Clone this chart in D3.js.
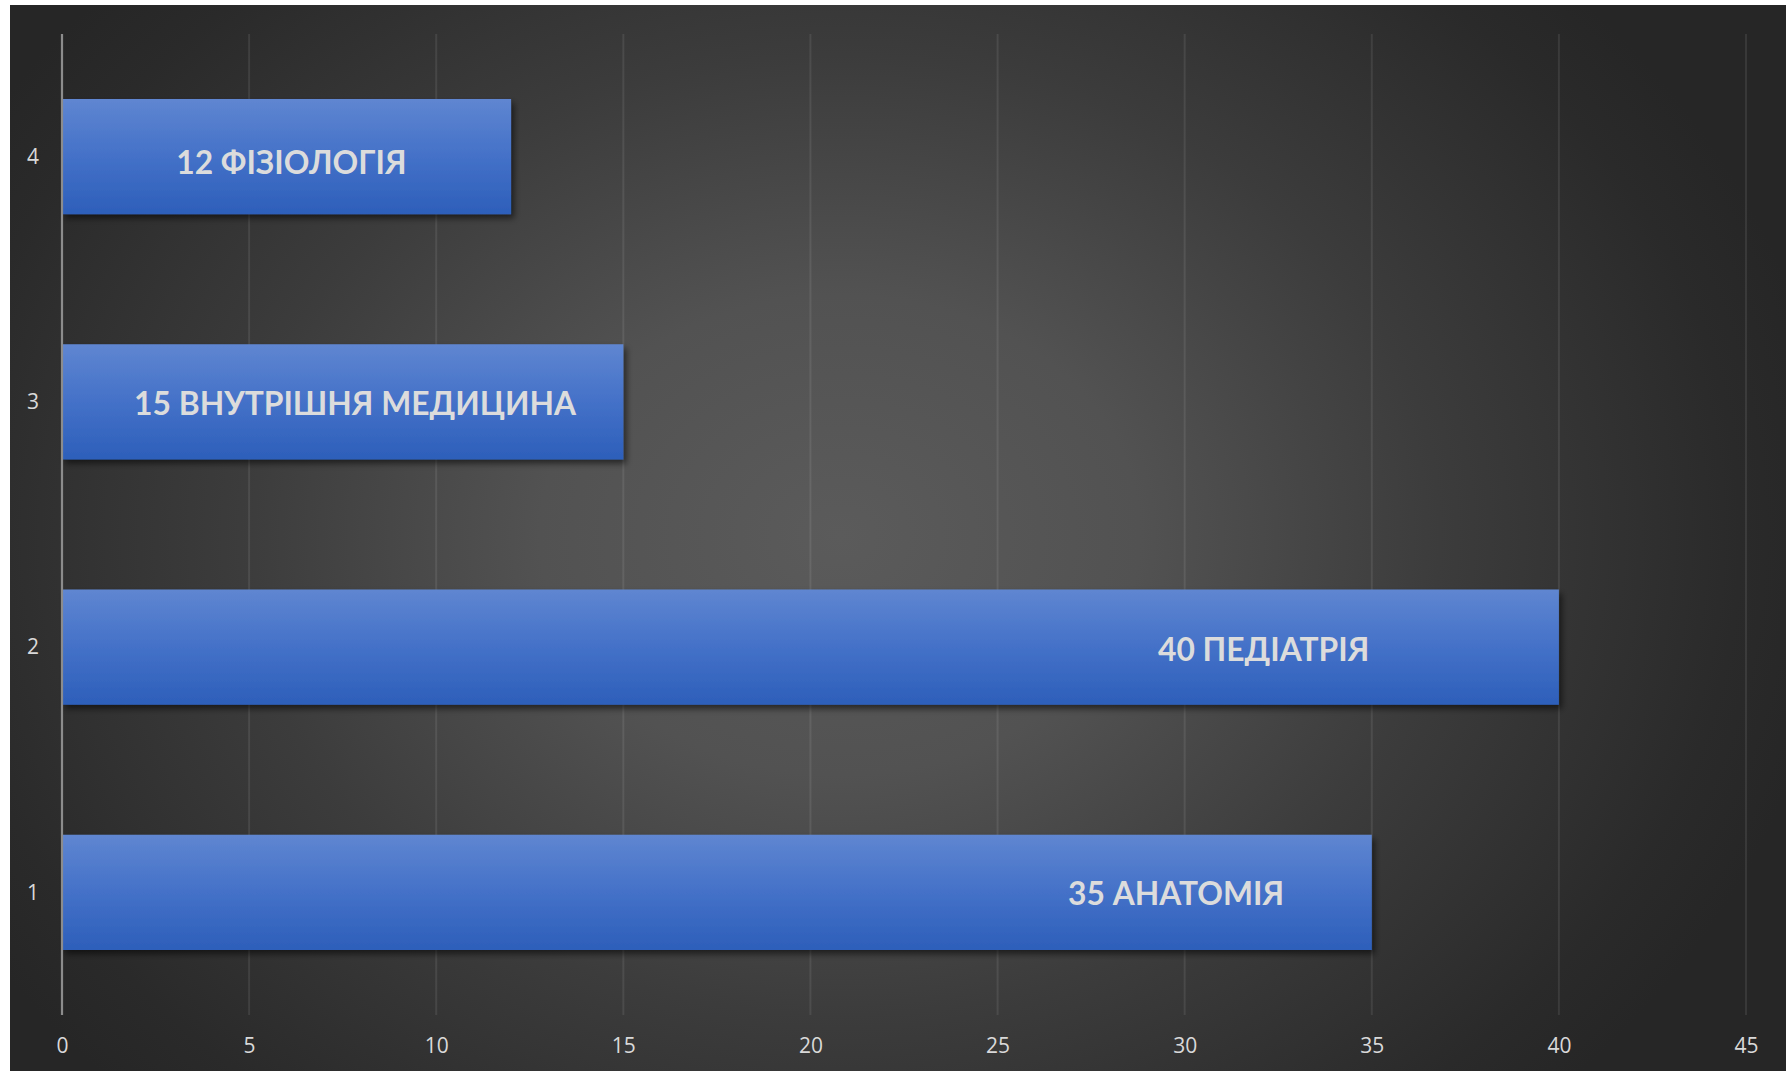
<!DOCTYPE html>
<html>
<head>
<meta charset="utf-8">
<script src="https://cdn.jsdelivr.net/npm/d3@7"></script>
<style>
  html, body { margin: 0; padding: 0; background: #ffffff; }
  svg { display: block; }
</style>
</head>
<body>
<svg id="chart" width="1786" height="1071"></svg>
<script>
// ---- data ----
const categories = ["1", "2", "3", "4"];
const values = [35, 40, 15, 12];
const names = ["АНАТОМІЯ", "ПЕДІАТРІЯ", "ВНУТРІШНЯ МЕДИЦИНА", "ФІЗІОЛОГІЯ"];
const xTicks = [0, 5, 10, 15, 20, 25, 30, 35, 40, 45];
// label centres (in axis units), as placed in the original
const labelCenters = [29.77, 32.11, 7.83, 6.13];
const labelShift = [1, 2, 1.5, 6];

// ---- layout ----
const W = 1786, H = 1071;
const svg = d3.select("#chart");
const defs = svg.append("defs");

const bg = defs.append("radialGradient").attr("id", "bg")
  .attr("gradientUnits", "userSpaceOnUse")
  .attr("cx", 840).attr("cy", 535).attr("r", 1000)
  .attr("gradientTransform", "translate(840,535) scale(1,0.8) translate(-840,-535)");
bg.append("stop").attr("offset", "0").attr("stop-color", "#5b5b5b");
bg.append("stop").attr("offset", "0.3").attr("stop-color", "#525252");
bg.append("stop").attr("offset", "0.6").attr("stop-color", "#3c3c3c");
bg.append("stop").attr("offset", "0.9").attr("stop-color", "#2a2a2a");
bg.append("stop").attr("offset", "1").attr("stop-color", "#262626");

const barGrad = defs.append("linearGradient").attr("id", "barGrad")
  .attr("x1", 0).attr("y1", 0).attr("x2", 0).attr("y2", 1);
barGrad.append("stop").attr("offset", "0").attr("stop-color", "#5f86d1");
barGrad.append("stop").attr("offset", "0.5").attr("stop-color", "#4471c8");
barGrad.append("stop").attr("offset", "1").attr("stop-color", "#2d5fba");

const shadow = defs.append("filter").attr("id", "shadow")
  .attr("x", "-10%").attr("y", "-20%").attr("width", "130%").attr("height", "150%");
shadow.append("feDropShadow").attr("dx", 3).attr("dy", 4).attr("stdDeviation", 3)
  .attr("flood-color", "#000").attr("flood-opacity", 0.55);

svg.append("rect").attr("x", 10).attr("y", 5).attr("width", W - 10).attr("height", H - 5)
  .attr("fill", "url(#bg)");

const x = d3.scaleLinear().domain([0, 45]).range([62, 1746]);
const y = d3.scaleBand().domain(categories.slice().reverse()).range([34, 1015])
  .paddingInner(0.53).paddingOuter(0.265);

// gridlines
svg.append("g").selectAll("line").data(xTicks.filter(d => d > 0)).join("line")
  .attr("x1", d => x(d)).attr("x2", d => x(d))
  .attr("y1", 34).attr("y2", 1015)
  .attr("stroke", "rgba(255,255,255,0.085)").attr("stroke-width", 2);

// bars
const data = categories.map((c, i) => ({ c, v: values[i], n: names[i], lc: labelCenters[i], ls: labelShift[i] }));
svg.append("g").selectAll("rect").data(data).join("rect")
  .attr("x", x(0)).attr("y", d => y(d.c))
  .attr("width", d => x(d.v) - x(0)).attr("height", y.bandwidth())
  .attr("fill", "url(#barGrad)").attr("filter", "url(#shadow)");

// axis line
svg.append("line").attr("x1", x(0)).attr("x2", x(0)).attr("y1", 34).attr("y2", 1015)
  .attr("stroke", "#8c8c8c").attr("stroke-width", 2.2);

// x axis ticks
const xAxis = d3.axisBottom(x).tickValues(xTicks).tickSize(0).tickPadding(0);
const gx = svg.append("g").attr("transform", "translate(0,1046)").call(xAxis);
gx.select(".domain").remove();
gx.selectAll("text").attr("fill", "#d9d9d9").attr("font-family", "'Open Sans', sans-serif")
  .attr("font-size", 21).attr("dy", "0.35em").attr("y", 0);

// y axis ticks
const yAxis = d3.axisLeft(y).tickSize(0).tickPadding(0);
const gy = svg.append("g").attr("transform", "translate(40,0)").call(yAxis);
gy.select(".domain").remove();
gy.selectAll("text").attr("fill", "#d9d9d9").attr("font-family", "'Open Sans', sans-serif")
  .attr("font-size", 21).attr("text-anchor", "middle").attr("x", -7).attr("dy", "0.35em");

// data labels
svg.append("g").selectAll("text").data(data).join("text")
  .attr("x", d => x(d.lc))
  .attr("y", d => y(d.c) + y.bandwidth() / 2 + d.ls + 11.5)
  .attr("text-anchor", "middle")
  .attr("font-family", "Lato, 'Open Sans', sans-serif")
  .attr("font-weight", "bold").attr("font-size", 31.8)
  .attr("fill", "#dcdcdc")
  .text(d => d.v + " " + d.n);
</script>
</body>
</html>
